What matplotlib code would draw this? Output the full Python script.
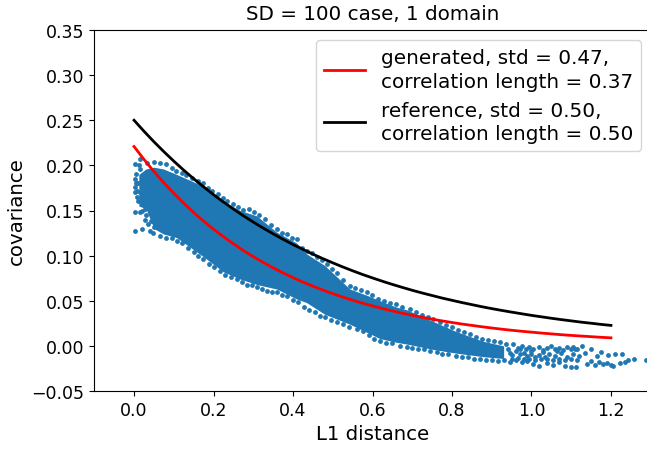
import numpy as np
import matplotlib
matplotlib.use('Agg')
import matplotlib.pyplot as plt

# curves
dist = [0.0, 0.025, 0.05, 0.075, 0.1, 0.125, 0.15, 0.175, 0.2, 0.225, 0.25, 0.275, 0.3, 0.325, 0.35, 0.375,
        0.4, 0.425, 0.45, 0.475, 0.5, 0.525, 0.55, 0.575, 0.6, 0.625, 0.65, 0.675, 0.7, 0.725, 0.75, 0.775,
        0.8, 0.825, 0.85, 0.875, 0.9, 0.925, 0.95, 0.975, 1.0, 1.025, 1.05, 1.075, 1.1, 1.125, 1.15, 1.175, 1.2]
generated = [0.2209, 0.2066, 0.1932, 0.1807, 0.1690, 0.1580, 0.1478, 0.1382, 0.1293, 0.1209, 0.1131, 0.1057,
             0.0989, 0.0925, 0.0865, 0.0809, 0.0756, 0.0707, 0.0662, 0.0619, 0.0579, 0.0541, 0.0506, 0.0473,
             0.0443, 0.0414, 0.0387, 0.0362, 0.0339, 0.0317, 0.0296, 0.0277, 0.0259, 0.0242, 0.0227, 0.0212,
             0.0198, 0.0185, 0.0173, 0.0162, 0.0152, 0.0142, 0.0133, 0.0124, 0.0116, 0.0109, 0.0102, 0.0095, 0.0089]
reference = [0.2500, 0.2378, 0.2262, 0.2152, 0.2047, 0.1947, 0.1852, 0.1762, 0.1676, 0.1594, 0.1516, 0.1442,
             0.1372, 0.1305, 0.1242, 0.1181, 0.1123, 0.1069, 0.1016, 0.0967, 0.0920, 0.0875, 0.0832, 0.0791,
             0.0753, 0.0716, 0.0681, 0.0648, 0.0616, 0.0586, 0.0558, 0.0530, 0.0505, 0.0480, 0.0457, 0.0434,
             0.0413, 0.0393, 0.0374, 0.0356, 0.0338, 0.0322, 0.0306, 0.0291, 0.0277, 0.0263, 0.0251, 0.0238, 0.0227]

# solid core of the point cloud (too dense to read single points)
core_x = [0.012, 0.03, 0.05, 0.074, 0.107, 0.174, 0.225, 0.267, 0.309, 0.359, 0.409, 0.434,
          0.48, 0.543, 0.586, 0.619, 0.66, 0.686, 0.753, 0.81, 0.879, 0.93]
core_hi = [0.190, 0.196, 0.198, 0.196, 0.190, 0.177, 0.160, 0.150, 0.144, 0.126, 0.114, 0.102,
           0.089, 0.063, 0.056, 0.050, 0.043, 0.040, 0.027, 0.016, 0.005, 0.000]
core_lo = [0.155, 0.152, 0.130, 0.124, 0.120, 0.099, 0.082, 0.074, 0.068, 0.063, 0.052, 0.048,
           0.035, 0.024, 0.015, 0.008, 0.004, 0.002, -0.004, -0.008, -0.012, -0.014]

# single points along the top of the cloud
top_x = [0.05, 0.065, 0.08, 0.095, 0.105, 0.12, 0.13, 0.145, 0.16, 0.174, 0.185, 0.197, 0.21, 0.225, 0.235, 0.25,
         0.262, 0.275, 0.29, 0.302, 0.315, 0.33, 0.345, 0.359, 0.372, 0.385, 0.398, 0.409, 0.422, 0.434, 0.447,
         0.46, 0.472, 0.485, 0.498, 0.51, 0.525, 0.543, 0.556, 0.57, 0.586, 0.60, 0.615, 0.63, 0.645, 0.66, 0.675,
         0.694, 0.71, 0.725, 0.74, 0.753, 0.77, 0.785, 0.80, 0.815, 0.83, 0.845, 0.86, 0.875, 0.89, 0.905, 0.92, 0.935]
top_y = [0.204, 0.203, 0.201, 0.197, 0.194, 0.191, 0.189, 0.186, 0.183, 0.181, 0.175, 0.172, 0.168, 0.164, 0.161, 0.157,
         0.154, 0.151, 0.152, 0.148, 0.145, 0.141, 0.134, 0.129, 0.125, 0.124, 0.120, 0.118, 0.109, 0.105, 0.103,
         0.098, 0.095, 0.091, 0.085, 0.081, 0.073, 0.066, 0.064, 0.062, 0.060, 0.056, 0.052, 0.050, 0.048, 0.046, 0.043,
         0.041, 0.037, 0.034, 0.032, 0.030, 0.026, 0.023, 0.021, 0.018, 0.015, 0.013, 0.010, 0.008, 0.006, 0.005, 0.004, 0.002]

# single points along the bottom of the cloud
bot_x = [0.065, 0.08, 0.095, 0.107, 0.12, 0.135, 0.15, 0.162, 0.174, 0.188, 0.2, 0.216, 0.23, 0.245, 0.258, 0.272,
         0.285, 0.298, 0.309, 0.322, 0.335, 0.347, 0.359, 0.372, 0.385, 0.40, 0.413, 0.428, 0.44, 0.455, 0.468, 0.48,
         0.495, 0.51, 0.525, 0.54, 0.56, 0.575, 0.59, 0.605, 0.619, 0.635, 0.65, 0.668, 0.686, 0.70, 0.715, 0.73,
         0.745, 0.762, 0.775, 0.79, 0.81, 0.825, 0.84, 0.855, 0.87, 0.885, 0.9, 0.915, 0.93, 0.945]
bot_y = [0.122, 0.120, 0.119, 0.1165, 0.114, 0.109, 0.104, 0.100, 0.096, 0.091, 0.087, 0.083, 0.079, 0.076, 0.074, 0.071,
         0.068, 0.067, 0.065, 0.063, 0.061, 0.060, 0.060, 0.056, 0.055, 0.051, 0.049, 0.043, 0.040, 0.037, 0.033, 0.032,
         0.029, 0.027, 0.024, 0.021, 0.019, 0.016, 0.012, 0.008, 0.005, 0.003, 0.003, 0.000, -0.001, -0.002, -0.003, -0.004,
         -0.006, -0.007, -0.009, -0.009, -0.011, -0.012, -0.012, -0.014, -0.015, -0.016, -0.016, -0.017, -0.016, -0.018]

# the loose columns at zero distance
left_x = [0.002, 0.015, 0.032, 0.002, 0.002, 0.002, 0.007, 0.002, 0.015, 0.028, 0.002, 0.019, 0.039, 0.028, 0.036,
          0.015, 0.011, 0.024, 0.015, 0.024, 0.036, 0.045, 0.05,
          0.006, 0.008, 0.010, 0.020, 0.030, 0.042, 0.012, 0.004, 0.007, 0.048, 0.040]
left_y = [0.202, 0.207, 0.203, 0.185, 0.176, 0.170, 0.165, 0.148, 0.148, 0.152, 0.127, 0.129, 0.127, 0.140, 0.135,
          0.196, 0.181, 0.185, 0.170, 0.161, 0.157, 0.145, 0.132,
          0.190, 0.180, 0.160, 0.150, 0.145, 0.138, 0.200, 0.180, 0.172, 0.125, 0.148]

# sparse tail
tail_x = [0.954, 0.965, 0.975, 0.985, 0.995, 1.005, 1.02, 1.03, 1.04, 1.05, 1.06, 1.07, 1.08, 1.09, 1.1, 1.105, 1.115,
          0.95, 0.96, 0.97, 0.98, 0.99, 1.0, 1.01, 1.02, 1.035, 1.045, 1.06, 1.075, 1.09, 1.105, 1.12, 1.135,
          0.96, 0.975, 0.99, 1.005, 1.02, 1.04, 1.055, 1.07, 1.085, 1.1, 1.111, 1.126, 1.109, 1.151, 1.164, 1.176,
          1.193, 1.21, 1.227, 1.206, 1.223, 1.235, 1.244, 1.259, 1.288, 1.14, 1.15, 1.16, 1.17, 1.18, 1.19, 1.2,
          0.94, 0.95, 0.965, 0.98, 0.995, 1.01, 1.025, 1.04, 1.055, 1.07, 1.085, 1.1, 1.115, 0.945, 0.97, 1.0, 1.03, 1.065]
tail_y = [0.002, -0.002, 0.000, -0.003, -0.001, -0.004, -0.001, -0.005, -0.002, 0.000, -0.004, -0.002, -0.005, -0.001, -0.003, -0.001, -0.004,
          -0.010, -0.006, -0.009, -0.008, -0.011, -0.009, -0.012, -0.010, -0.012, -0.009, -0.011, -0.008, -0.012, -0.009, -0.011, -0.008,
          -0.016, -0.018, -0.017, -0.020, -0.022, -0.019, -0.021, -0.018, -0.022, -0.023, -0.023, -0.0005, -0.003, -0.003, -0.011, -0.007,
          -0.010, -0.009, -0.009, -0.022, -0.019, -0.018, -0.016, -0.015, -0.016, -0.020, -0.017, -0.021, -0.018, -0.020, -0.019, -0.021,
          -0.004, -0.014, -0.013, -0.014, -0.015, -0.016, -0.015, -0.015, -0.016, -0.014, -0.016, -0.015, -0.016, -0.008, -0.004, -0.006, -0.007, -0.006]

W, H = 647, 452
plt.rcParams['font.family'] = 'DejaVu Sans'
fig = plt.figure(figsize=(W / 100, H / 100), dpi=100)
# the right edge of the axes falls just outside the picture
ax = fig.add_axes([94.3 / W, 1 - 392 / H, 556.4 / W, 361 / H])

ax.fill_between(core_x, core_lo, core_hi, color='#1f77b4', linewidth=0)
for xs, ys in [(top_x, top_y), (bot_x, bot_y), (left_x, left_y), (tail_x, tail_y)]:
    ax.scatter(xs, ys, s=12, color='#1f77b4', linewidths=0)
ax.plot(dist, generated, color='red', lw=2, label='generated, std = 0.47,\ncorrelation length = 0.37')
ax.plot(dist, reference, color='black', lw=2, label='reference, std = 0.50,\ncorrelation length = 0.50')

ax.set_xlim(-0.1, 1.3)
ax.set_ylim(-0.05, 0.35)
ax.set_xticks(np.arange(0, 1.3, 0.2))
ax.set_yticks(np.arange(-0.05, 0.36, 0.05))
ax.tick_params(labelsize=12.5)
ax.set_xlabel('L1 distance', fontsize=14.2)
ax.set_ylabel('covariance', fontsize=14.2, labelpad=4)
fig.text(373 / W, 1 - 15 / H, 'SD = 100 case, 1 domain', fontsize=14.35, ha='center', va='center')
leg = ax.legend(loc='upper right', bbox_to_anchor=(0.9826, 0.9723), fontsize=14.45, borderaxespad=0)
for t in leg.get_texts():
    t.set_linespacing(1.3)

fig.savefig('out.png', dpi=100)
